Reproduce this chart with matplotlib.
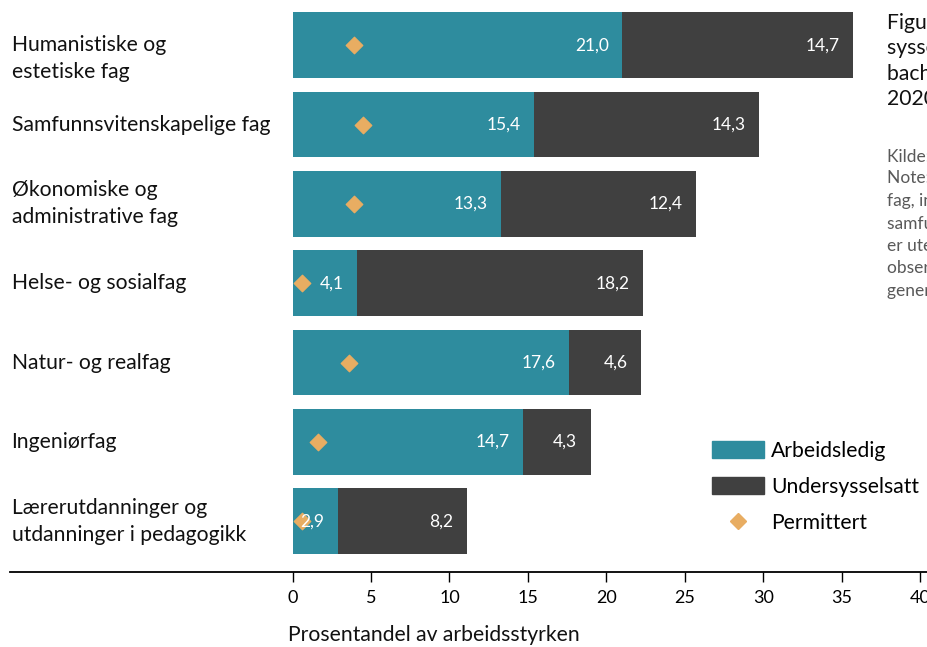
import numpy as np
import matplotlib.pyplot as plt
from matplotlib.lines import Line2D
from matplotlib.patches import Patch

plt.rcParams['font.family'] = ['Lato', 'DejaVu Sans']

fag = ['Humanistiske og\nestetiske fag', 'Samfunnsvitenskapelige fag',
       'Økonomiske og\nadministrative fag', 'Helse- og sosialfag',
       'Natur- og realfag', 'Ingeniørfag',
       'Lærerutdanninger og\nutdanninger i pedagogikk']
arbeidsledig = [21.0, 15.4, 13.3, 4.1, 17.6, 14.7, 2.9]
undersysselsatt = [14.7, 14.3, 12.4, 18.2, 4.6, 4.3, 8.2]
permittert = [3.9, 4.5, 3.9, 0.6, 3.6, 1.6, 0.6]
xticks = [0, 5, 10, 15, 20, 25, 30, 35, 40]

teal = '#2e8c9e'
dark = '#404040'
orange = '#e8ad62'

fig = plt.figure(figsize=(9.28, 6.47), dpi=100)
# axes reaches past the right edge, like the cropped original
ax = fig.add_axes([10 / 928, 1 - 572 / 647, 926 / 928, 572 / 647])

y = np.arange(len(fag))
ax.barh(y, arbeidsledig, height=0.83, color=teal)
ax.barh(y, undersysselsatt, left=arbeidsledig, height=0.83, color=dark)
ax.scatter(permittert, y, marker='D', s=70, color=orange, zorder=3)

for i in range(len(fag)):
    a = arbeidsledig[i]
    u = undersysselsatt[i]
    ax.text(a - 0.85, i, f'{a:.1f}'.replace('.', ','), color='white',
            ha='right', va='center', fontsize=12.5)
    ax.text(a + u - 0.85, i, f'{u:.1f}'.replace('.', ','), color='white',
            ha='right', va='center', fontsize=12.5)
    # first label sits a bit low in the original
    shift = 0.17 if i == 0 else 0
    ax.text(-17.9, i + shift, fag[i], ha='left', va='center', fontsize=15.2,
            color='#111111', linespacing=1.45)

ax.set_xlim(-18, 41)
ax.set_ylim(6.64, -0.57)
ax.set_xticks(xticks)
ax.set_xticklabels([str(t) for t in xticks], fontsize=13)
ax.tick_params(axis='x', length=7, width=1, pad=6, color='black')
ax.set_yticks([])
for s in ['top', 'right', 'left']:
    ax.spines[s].set_visible(False)
ax.spines['bottom'].set_linewidth(1.3)

ax.text(-0.3, 7.44, 'Prosentandel av arbeidsstyrken', ha='left',
        va='center', fontsize=15.2, color='#111111')

handles = [Patch(color=teal), Patch(color=dark),
           Line2D([], [], marker='D', color=orange, linestyle='none',
                  markersize=8)]
ax.legend(handles, ['Arbeidsledig', 'Undersysselsatt', 'Permittert'],
          loc='upper left', bbox_to_anchor=(694 / 926 - 0.012, 1 - 422 / 572),
          frameon=False, fontsize=15.2, handlelength=2.45, handleheight=0.85,
          labelspacing=0.75, handletextpad=0.35)

fig.text(887 / 928, 1 - 13 / 647,
         'Figur 5.3 Andel arbeidsledige, permitterte og under-\n'
         'sysselsatte blant nyutdannede med\n'
         'bachelorgrad etter fagfelt. November\n'
         '2020. Prosent',
         ha='left', va='top', fontsize=15.2, color='#111111', linespacing=1.33)
fig.text(887 / 928, 1 - 148 / 647,
         'Kilde: Kandidatundersøkelsen 2020\n'
         'Note: Gruppen humanistiske og estetiske\n'
         'fag, inkluderer også enkelte andre\n'
         'samfunnsfag. Lærerutdanningene\n'
         'er utelatt fra figuren fordi antall\n'
         'observasjoner er lavt og tallene\n'
         'generelt usikre.',
         ha='left', va='top', fontsize=12.5, color='#595959', linespacing=1.5)

fig.savefig('out.png', dpi=100)
